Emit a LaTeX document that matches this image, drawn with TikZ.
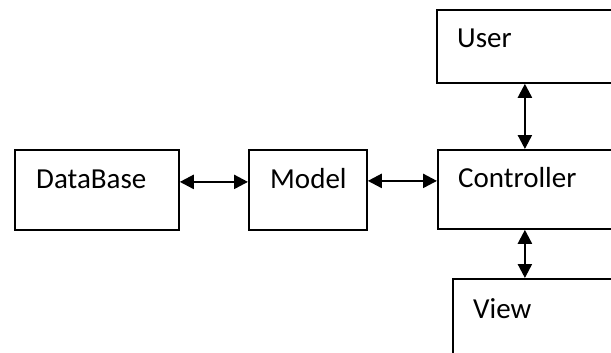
\documentclass[tikz,border=0pt]{standalone}
\usepackage{fontspec}
\setmainfont{Carlito}
\usetikzlibrary{arrows.meta}
\begin{document}
\begin{tikzpicture}[x=1pt,y=1pt,
  box/.style={draw=black, line width=1.8pt, rectangle, inner sep=0pt, anchor=north west},
  lbl/.style={anchor=base west, inner sep=0pt, font=\fontsize{29}{34}\selectfont},
  dbl/.style={line width=2.4pt, {Triangle[length=14pt,width=14pt]}-{Triangle[length=14pt,width=14pt]}}]
\clip (0,0) rectangle (611,-353);
\fill[white] (0,0) rectangle (611,-353);
\node[box, minimum width=164pt, minimum height=80pt] (db) at (14,-149) {};
\node[lbl] (dbt) at (36,-188) {DataBase};
\node[box, minimum width=118pt, minimum height=80pt] (model) at (248,-149) {};
\node[lbl] (modelt) at (270,-188) {Model};
\node[box, minimum width=203pt, minimum height=79pt] (ctrl) at (437,-149) {};
\node[lbl] (ctrlt) at (458,-187) {Controller};
\node[box, minimum width=204pt, minimum height=73pt] (user) at (436,-9) {};
\node[lbl] (usert) at (457,-48) {User};
\node[box, minimum width=188pt, minimum height=100pt] (view) at (452,-278) {};
\node[lbl] (viewt) at (473,-318) {View};
\draw[dbl] ([yshift=8pt]db.east) -- ([yshift=8pt]db.east -| model.west);
\draw[dbl] ([yshift=9pt]model.east) -- ([yshift=9pt]model.east -| ctrl.west);
\draw[dbl] ([xshift=-14pt]user.south) -- ([xshift=-14pt]user.south |- ctrl.north);
\draw[dbl] ([xshift=-14.5pt]ctrl.south) -- ([xshift=-14.5pt]ctrl.south |- view.north);
\end{tikzpicture}
\end{document}
